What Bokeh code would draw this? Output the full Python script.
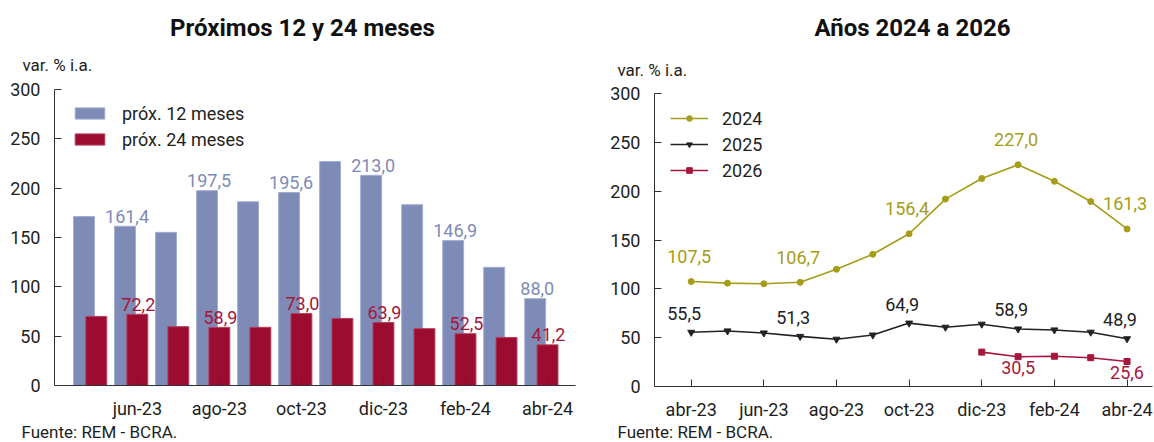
from bokeh.plotting import figure
from bokeh.layouts import row
from bokeh.models import (Range1d, FixedTicker, Legend, LegendItem, Label,
                          ColumnDataSource)
from bokeh.core.properties import value
from bokeh.embed import file_html
from bokeh.resources import INLINE

# ---------------- data ----------------
months_left = ["may-23", "jun-23", "jul-23", "ago-23", "sep-23", "oct-23",
               "nov-23", "dic-23", "ene-24", "feb-24", "mar-24", "abr-24"]
prox12 = [171.3, 161.4, 155.2, 197.5, 186.2, 195.6, 227.0, 213.0, 183.2, 146.9, 119.8, 88.0]
prox24 = [70.0, 72.2, 59.6, 58.9, 59.0, 73.0, 68.0, 63.9, 57.6, 52.5, 48.7, 41.2]

months_right = ["abr-23", "may-23", "jun-23", "jul-23", "ago-23", "sep-23", "oct-23",
                "nov-23", "dic-23", "ene-24", "feb-24", "mar-24", "abr-24"]
y2024 = [107.5, 105.8, 105.2, 106.7, 120.0, 135.4, 156.4, 191.9, 213.0, 227.0, 210.1, 189.4, 161.3]
y2025 = [55.5, 56.9, 54.8, 51.3, 48.4, 52.7, 64.9, 60.7, 63.8, 58.9, 57.9, 55.6, 48.9]
months_2026 = ["dic-23", "ene-24", "feb-24", "mar-24", "abr-24"]
y2026 = [35.2, 30.5, 31.0, 29.5, 25.6]

y_ticks = [0, 50, 100, 150, 200, 250, 300]

# ---------------- style ----------------
FONT = "Roboto"
BLUE = "#7d8bb6"
RED = "#9c0b30"
OLIVE = "#a59c17"
BLACK = "#222222"
RED2 = "#a5163d"
AXIS = "#333333"
TXT = "#1e1e1e"
FS = "18px"            # main text size
OX, OY = 0, 0          # page offset of the layout (bokeh page has no body margin)
H = 442
LW, RW = 600, 554
DY = 6                 # alphabetic baseline correction (px)


class Geo:
    """page-pixel <-> data mapping for a figure whose frame fills the canvas"""
    def __init__(self, page_left, width, x0_page, ppx, y0_page, ppy):
        self.pl, self.w = page_left, width
        self.x0, self.ppx, self.y0, self.ppy = x0_page, ppx, y0_page, ppy

    def fx(self, px):
        return (px - self.x0) / self.ppx

    def fy(self, py):
        return (self.y0 - py) / self.ppy

    def xr(self):
        return Range1d(self.fx(self.pl), self.fx(self.pl + self.w))

    def yr(self):
        return Range1d(self.fy(OY + H), self.fy(OY))


def fmt(v):
    return f"{v:.1f}".replace(".", ",")


def make_fig(g, W, axis_left_px, axis_right_px):
    p = figure(width=W, height=H, output_backend="svg", toolbar_location=None,
               x_range=g.xr(), y_range=g.yr(), title=None)
    p.min_border = 0
    p.min_border_left = 0
    p.min_border_right = 0
    p.min_border_top = 0
    p.min_border_bottom = 0
    p.outline_line_color = None
    p.xgrid.visible = False
    p.ygrid.visible = False
    p.background_fill_color = "white"
    p.border_fill_color = "white"
    for ax in (p.xaxis[0], p.yaxis[0]):
        ax.axis_line_color = AXIS
        ax.axis_line_width = 1
        ax.major_tick_line_color = AXIS
        ax.major_tick_in = 7
        ax.major_tick_out = 0
        ax.minor_tick_line_color = None
        ax.major_label_text_font = FONT
        ax.major_label_text_font_size = FS
        ax.major_label_text_color = TXT
    p.yaxis.ticker = FixedTicker(ticks=y_ticks)
    p.yaxis.bounds = (0, 300)
    p.yaxis.fixed_location = g.fx(axis_left_px)
    p.xaxis.fixed_location = 0
    p.xaxis.bounds = (g.fx(axis_left_px), g.fx(axis_right_px))
    p.yaxis.major_label_standoff = 14
    p.xaxis.major_label_standoff = 12
    return p


def add_text(p, g, px, py, text, size, bold=False, align="left"):
    p.add_layout(Label(x=g.fx(px), y=g.fy(py - DY), text=text, text_font=FONT,
                       text_font_size=size,
                       text_font_style="bold" if bold else "normal",
                       text_color="#111111" if bold else TXT,
                       text_align=align, text_baseline="alphabetic"))


def legend(items, loc, gw):
    return Legend(items=items, location=loc, padding=0, margin=0, spacing=4,
                  glyph_width=gw, glyph_height=14, label_height=22, label_standoff=14,
                  border_line_color=None, background_fill_alpha=0,
                  label_text_font=FONT, label_text_font_size=FS, label_text_color=TXT)


# ---------------- left chart ----------------
gl = Geo(OX, LW, 95.8, 41.02, 385.0, 296.0 / 300.0)
pl = make_fig(gl, LW, 54, 575)

xl = list(range(len(months_left)))
BOFF = 0.30
BW = 0.51
src_l = ColumnDataSource(dict(xb=[i - BOFF for i in xl], xr=xl, p12=prox12, p24=prox24))
r12 = pl.vbar(x="xb", top="p12", width=BW, source=src_l, fill_color=BLUE,
              line_color="#a3aed0", line_width=1)
r24 = pl.vbar(x="xr", top="p24", width=BW, source=src_l, fill_color=RED,
              line_color="#b3405f", line_width=1)

lab_idx = list(range(1, 12, 2))
pl.xaxis.ticker = FixedTicker(ticks=lab_idx)
pl.xaxis.major_label_overrides = {i: months_left[i] for i in lab_idx}

s12 = ColumnDataSource(dict(x=[i - BOFF for i in lab_idx], y=[prox12[i] for i in lab_idx],
                            t=[fmt(prox12[i]) for i in lab_idx]))
s24 = ColumnDataSource(dict(x=[i for i in lab_idx], y=[prox24[i] for i in lab_idx],
                            t=[fmt(prox24[i]) for i in lab_idx]))
pl.text(x="x", y="y", text="t", source=s12, text_font=value(FONT), text_font_size=FS,
        text_color=BLUE, text_align="center", text_baseline="alphabetic",
        x_offset=2, y_offset=-4 - DY)
pl.text(x="x", y="y", text="t", source=s24, text_font=value(FONT), text_font_size=FS,
        text_color=RED2, text_align="center", text_baseline="alphabetic",
        x_offset=1, y_offset=-4 - DY)

pl.add_layout(legend([LegendItem(label="próx. 12 meses", renderers=[r12]),
                      LegendItem(label="próx. 24 meses", renderers=[r24])],
                     (71 - OX, (OY + H) - 150), 37))

add_text(pl, gl, 302, 33, "Próximos 12 y 24 meses", "24px", bold=True, align="center")
add_text(pl, gl, 22, 70.5, "var. % i.a.", "17px")
add_text(pl, gl, 21, 437, "Fuente: REM - BCRA.", "17px")

# ---------------- right chart ----------------
gr = Geo(OX + LW, RW, 690.7, 36.32, 386.0, 293.0 / 300.0)
pr = make_fig(gr, RW, 654, 1152)

xr_ = list(range(len(months_right)))
x26 = [months_right.index(m) for m in months_2026]

l24 = pr.line(xr_, y2024, line_color=OLIVE, line_width=1.6)
m24 = pr.scatter(xr_, y2024, marker="circle", size=6, fill_color=OLIVE, line_color=OLIVE)
l25 = pr.line(xr_, y2025, line_color=BLACK, line_width=1.6)
m25 = pr.scatter(xr_, y2025, marker="inverted_triangle", size=7, fill_color=BLACK, line_color=BLACK)
l26 = pr.line(x26, y2026, line_color=RED2, line_width=1.6)
m26 = pr.scatter(x26, y2026, marker="square", size=6, fill_color=RED2, line_color=RED2)

tick_idx = list(range(0, 13, 2))
pr.xaxis.ticker = FixedTicker(ticks=tick_idx)
pr.xaxis.major_label_overrides = {i: months_right[i] for i in tick_idx}

lbl_idx = list(range(0, 13, 3))
sa = ColumnDataSource(dict(x=lbl_idx, y=[y2024[i] for i in lbl_idx], t=[fmt(y2024[i]) for i in lbl_idx]))
sb = ColumnDataSource(dict(x=lbl_idx, y=[y2025[i] for i in lbl_idx], t=[fmt(y2025[i]) for i in lbl_idx]))
lbl26 = ["ene-24", "abr-24"]
sc = ColumnDataSource(dict(x=[months_right.index(m) for m in lbl26],
                           y=[y2026[months_2026.index(m)] for m in lbl26],
                           t=[fmt(y2026[months_2026.index(m)]) for m in lbl26]))
pr.text(x="x", y="y", text="t", source=sa, text_font=value(FONT), text_font_size=FS,
        text_color=OLIVE, text_align="center", text_baseline="alphabetic",
        x_offset=-2, y_offset=-19 - DY)
pr.text(x="x", y="y", text="t", source=sb, text_font=value(FONT), text_font_size=FS,
        text_color=BLACK, text_align="center", text_baseline="alphabetic",
        x_offset=-7, y_offset=-13 - DY)
pr.text(x="x", y="y", text="t", source=sc, text_font=value(FONT), text_font_size=FS,
        text_color=RED2, text_align="center", text_baseline="alphabetic",
        x_offset=0, y_offset=17 - DY)

pr.add_layout(legend([LegendItem(label="2024", renderers=[l24, m24]),
                      LegendItem(label="2025", renderers=[l25, m25]),
                      LegendItem(label="2026", renderers=[l26, m26])],
                     (670 - OX - LW, (OY + H) - 181), 38))

add_text(pr, gr, 912, 33, "Años 2024 a 2026", "24px", bold=True, align="center")
add_text(pr, gr, 617, 75, "var. % i.a.", "17px")
add_text(pr, gr, 617, 437, "Fuente: REM - BCRA.", "17px")

layout = row(pl, pr, spacing=0)
open("out.html", "w").write(file_html(layout, INLINE))
